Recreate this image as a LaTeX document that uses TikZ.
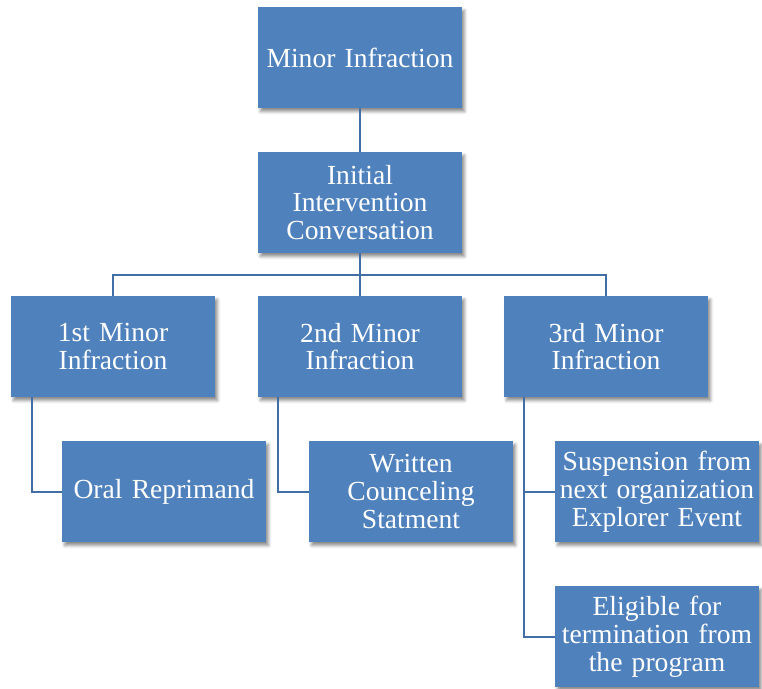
\documentclass[tikz,border=0pt]{standalone}
\usepackage{fontspec}
\setmainfont{Liberation Serif}
\usetikzlibrary{shadows.blur}
\definecolor{boxblue}{RGB}{79,129,189}
\definecolor{lineblue}{RGB}{65,110,165}
\begin{document}
\begin{tikzpicture}[x=1pt,y=-1pt,
  orgbox/.style={rectangle, fill=boxblue, draw=none, minimum width=204pt, minimum height=101pt,
    inner sep=0pt, text width=202pt, align=center, text=white,
    font=\fontsize{27.6}{27.8}\selectfont,
    blur shadow={shadow xshift=2.5pt, shadow yshift=-3.5pt, shadow blur radius=3pt, shadow opacity=45}},
  link/.style={draw=lineblue, line width=2pt}]
\useasboundingbox (0,0) rectangle (762,688);
\node[orgbox] (minor) at (360,57.5) {Minor Infraction};
\node[orgbox] (init) at (360,202.5) {Initial\\Intervention\\Conversation};
\node[orgbox] (first) at (113,346.5) {1st Minor\\Infraction};
\node[orgbox] (second) at (360,346.5) {2nd Minor\\Infraction};
\node[orgbox] (third) at (606,346.5) {3rd Minor\\Infraction};
\node[orgbox] (oral) at (164,491.5) {Oral Reprimand};
\node[orgbox] (written) at (411,491.5) {Written\\Counceling\\Statment};
\node[orgbox] (susp) at (657,491.5) {Suspension from\\next organization\\Explorer Event};
\node[orgbox] (elig) at (657,636.5) {Eligible for\\termination from\\the program};
\coordinate (bus) at (360,275);
\draw[link] (minor.south) -- (init.north);
\draw[link] (init.south) -- (bus);
\draw[link] (first.north) |- (bus) -| (third.north);
\draw[link] (bus) -- (second.north);
\draw[link] ([xshift=-81pt]first.south) |- (oral.west);
\draw[link] ([xshift=-82pt]second.south) |- (written.west);
\draw[link] ([xshift=-82pt]third.south) |- (susp.west);
\draw[link] ([xshift=-82pt]third.south) |- (elig.west);
\end{tikzpicture}
\end{document}
